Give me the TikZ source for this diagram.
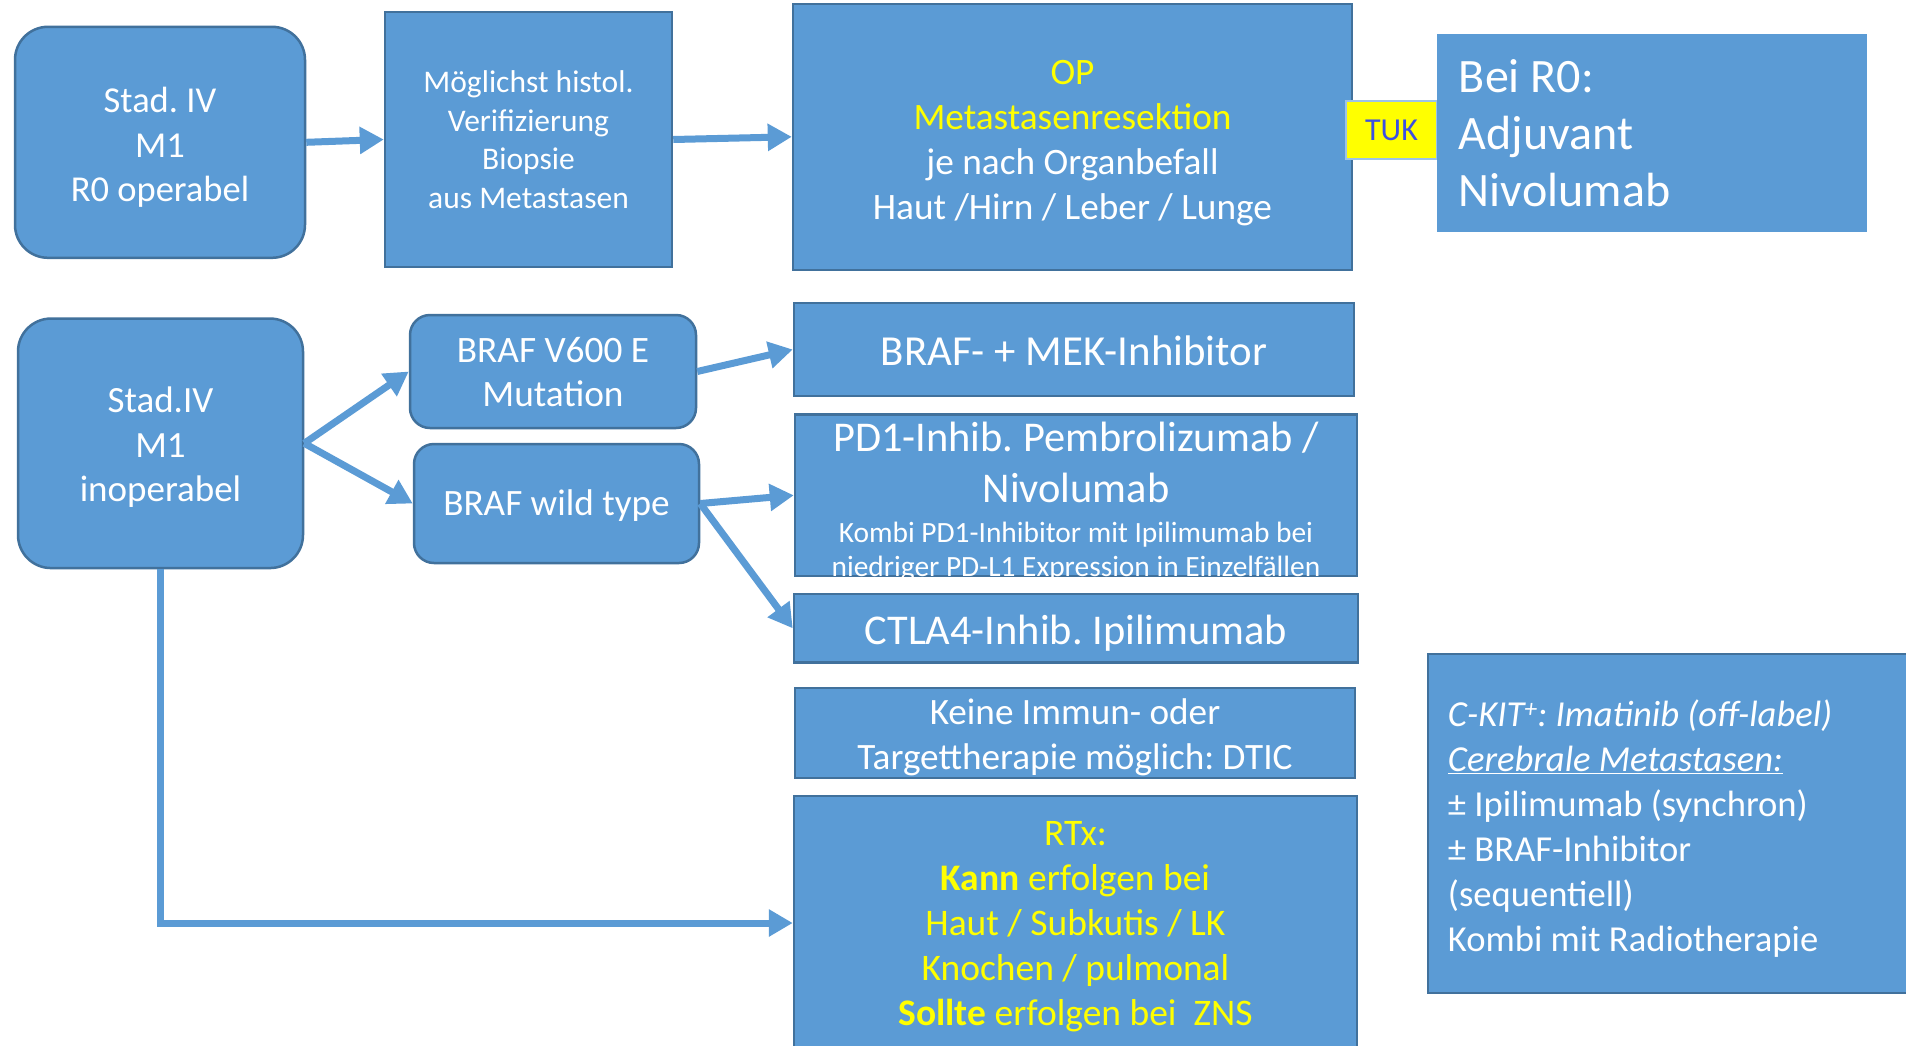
\documentclass[tikz,border=0pt]{standalone}
\usepackage{fontspec}
\setmainfont{Carlito}
\usetikzlibrary{arrows.meta}
\definecolor{boxc}{HTML}{5B9BD5}
\definecolor{bordc}{HTML}{41719C}
\definecolor{tukblue}{RGB}{60,80,225}
\definecolor{tukbord}{HTML}{9DC3E6}
\definecolor{yel}{HTML}{FFFF00}
\tikzset{
  box/.style={draw=bordc, line width=2.5pt, fill=boxc, inner sep=0pt},
  rbox/.style={box, rounded corners=33pt},
  sbox/.style={box, rounded corners=20pt},
  txt/.style={text=white, align=center, inner sep=0pt},
  arr/.style={draw=boxc, line width=7pt, -{Triangle[length=24pt,width=26pt]}},
}
\begin{document}
\frenchspacing
\begin{tikzpicture}[x=1pt,y=-1pt]
\useasboundingbox (0,0) rectangle (1906,1045);
\fill[white] (0,0) rectangle (1906,1045);

% boxes
\node[rbox, minimum width=290pt, minimum height=231pt] (A) at (160,142.3) {};
\node[box, minimum width=287pt, minimum height=255pt] (B) at (528.5,139.5) {};
\node[box, minimum width=559pt, minimum height=266pt] (C) at (1072.5,136.8) {};
\node[draw=tukbord, line width=1.5pt, fill=yel, text=tukblue, inner sep=0pt,
  minimum width=91pt, minimum height=58pt, font=\fontsize{32}{38}\selectfont] (TUK) at (1391.5,130) {TUK};
\node[box, draw=boxc, minimum width=428pt, minimum height=196pt] (D) at (1652,133) {};
\node[rbox, minimum width=285pt, minimum height=249.5pt] (E) at (160.5,443.3) {};
\node[sbox, minimum width=286pt, minimum height=113pt] (F) at (553,371.5) {};
\node[sbox, minimum width=285pt, minimum height=119pt] (G) at (556.5,503.5) {};
\node[box, minimum width=560pt, minimum height=93pt] (H) at (1074,349.5) {};
\node[box, minimum width=562pt, minimum height=161.5pt] (I) at (1076,495.3) {};
\node[box, minimum width=564pt, minimum height=68.5pt] (J) at (1076,628.3) {};
\node[box, minimum width=560pt, minimum height=90pt] (K) at (1075,733) {};
\node[box, minimum width=563pt, minimum height=254pt] (L) at (1075.5,923) {};
\node[box, minimum width=492pt, minimum height=339pt] (M) at (1674,823.5) {};

% texts
\node[txt, font=\fontsize{36.5}{44.7}\selectfont] (At) at ([yshift=-5pt]A.center)
  {Stad. IV\\M1\\R0 operabel};
\node[txt, font=\fontsize{31.5}{38.5}\selectfont] (Bt) at (B.center)
  {Möglichst histol.\\Verifizierung\\Biopsie\\aus Metastasen};
\node[txt, font=\fontsize{37.3}{45}\selectfont] (Ct) at ([yshift=-6pt]C.center)
  {\textcolor{yel}{OP}\\\textcolor{yel}{Metastasenresektion}\\je nach Organbefall\\Haut /Hirn / Leber / Lunge};
\node[txt, align=left, anchor=west, font=\fontsize{48}{57}\selectfont] (Dt) at ([xshift=22pt]D.west)
  {Bei R0:\\Adjuvant\\Nivolumab};
\node[txt, font=\fontsize{37}{44.7}\selectfont] (Et) at ([yshift=-4pt]E.center)
  {Stad.IV\\M1\\inoperabel};
\node[txt, font=\fontsize{37.3}{44}\selectfont] (Ft) at ([yshift=-1pt]F.center)
  {BRAF V600 E\\Mutation};
\node[txt, font=\fontsize{37.2}{44}\selectfont] (Gt) at ([yshift=-2.5pt]G.center)
  {BRAF wild type};
\node[txt, font=\fontsize{42.8}{50}\selectfont] (Ht) at ([yshift=-1pt]H.center)
  {BRAF- + MEK-Inhibitor};
\node[txt, font=\fontsize{42.4}{51}\selectfont] (It) at ([yshift=-6pt]I.center)
  {PD1-Inhib. Pembrolizumab /\\Nivolumab\\[-11pt]
   {\fontsize{29.4}{34}\selectfont Kombi PD1-Inhibitor mit Ipilimumab bei}\\[-17pt]
   {\fontsize{29.4}{34}\selectfont niedriger PD-L1 Expression in Einzelfällen}};
\node[txt, font=\fontsize{42.4}{51}\selectfont] (Jt) at ([yshift=-5pt]J.center)
  {CTLA4-Inhib. Ipilimumab};
\node[txt, font=\fontsize{37.2}{45}\selectfont] (Kt) at ([yshift=-4pt]K.center)
  {Keine Immun- oder\\Targettherapie möglich: DTIC};
\node[txt, text=yel, font=\fontsize{37.5}{45}\selectfont] (Lt) at ([yshift=-4pt]L.center)
  {RTx:\\\textbf{Kann} erfolgen bei\\Haut / Subkutis / LK\\Knochen / pulmonal\\\textbf{Sollte} erfolgen bei\ \ ZNS};
\node[txt, align=left, anchor=west, font=\fontsize{36.6}{45}\selectfont] (Mt) at ([xshift=21pt,yshift=-5pt]M.west)
  {\textit{C-KIT\textsuperscript{+}: Imatinib (off-label)}\\
   \textit{\underline{Cerebrale Metastasen:}}\\
   ± Ipilimumab (synchron)\\
   ± BRAF-Inhibitor\\
   (sequentiell)\\
   Kombi mit Radiotherapie};

% connectors
\draw[arr] (A.east) -- (B.west);
\draw[arr] (B.east) -- (C.west);
\draw[arr] (E.east) -- (F.west);
\draw[arr] (E.east) -- (G.west);
\draw[arr] (F.east) -- (H.west);
\draw[arr] (G.east) -- (I.west);
\draw[arr] (G.east) -- (J.west);
\draw[arr] (E.south) |- (L.west);
\end{tikzpicture}
\end{document}
